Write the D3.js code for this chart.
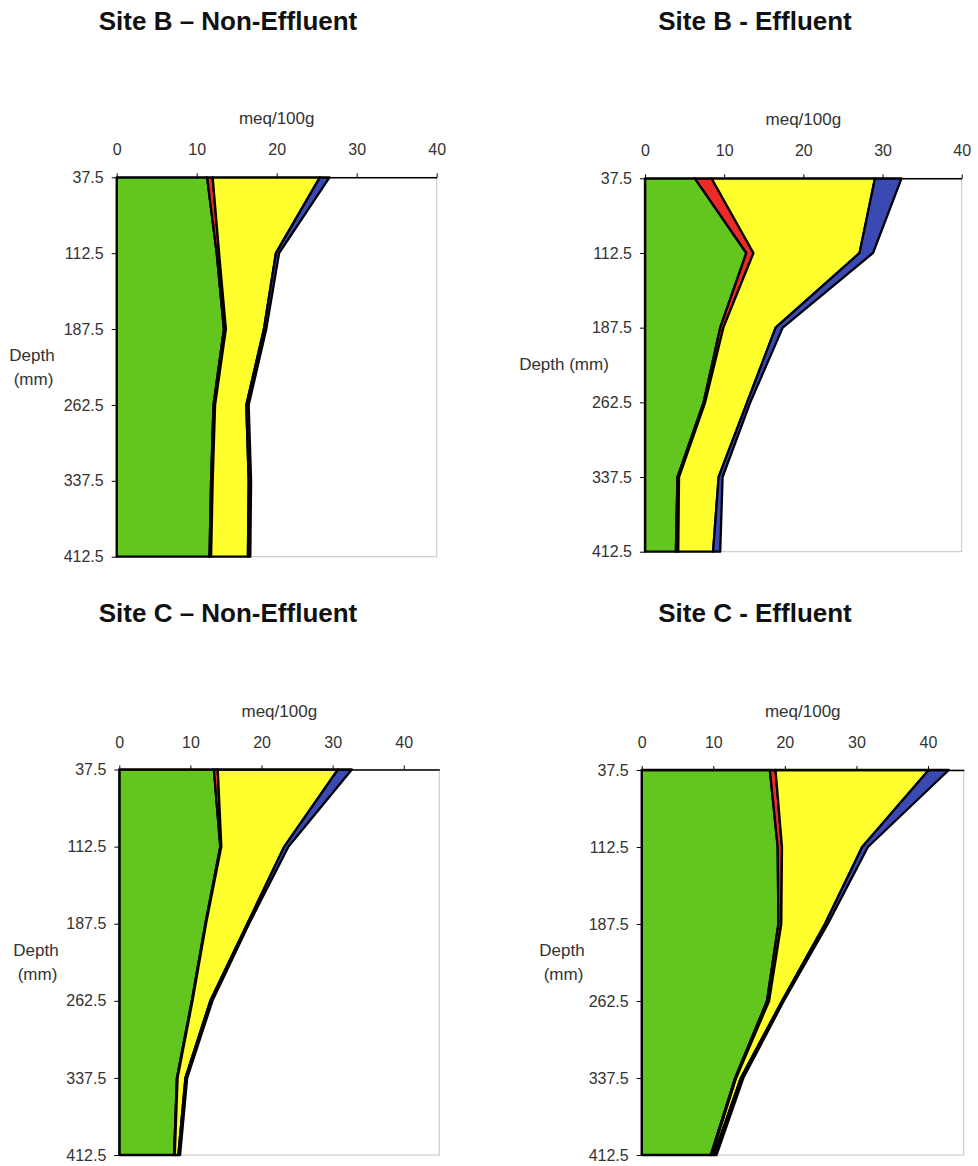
<!DOCTYPE html>
<html>
<head>
<meta charset="utf-8">
<script src="https://cdn.jsdelivr.net/npm/d3@7"></script>
<style>
  html, body { margin: 0; padding: 0; background: #fff; }
  svg { display: block; }
  text { font-family: "Liberation Sans", Arial, sans-serif; }
</style>
</head>
<body>
<svg id="chart" width="978" height="1166"></svg>
<script>
// Sampling depths (mm), shared by all four profiles
const depths = [37.5, 112.5, 187.5, 262.5, 337.5, 412.5];
const xTicks = [0, 10, 20, 30, 40];

// Exchangeable cations (meq/100g), stacked left to right: Ca, K, Mg, Na
const seriesKeys = ["Ca", "K", "Mg", "Na"];
const seriesColors = ["#63c61e", "#ec2a2a", "#ffff2e", "#3a4ab2"];

// Site B – Non-Effluent
const bNonCa = [11.3, 12.5, 13.4, 12.1, 11.8, 11.6];
const bNonK  = [0.7, 0.3, 0.25, 0.2, 0.2, 0.2];
const bNonMg = [13.4, 7.1, 4.75, 3.9, 4.5, 4.6];
const bNonNa = [1.2, 0.4, 0.3, 0.3, 0.3, 0.3];

// Site B - Effluent
const bEffCa = [6.3, 12.8, 9.5, 7.4, 4.1, 3.9];
const bEffK  = [2.1, 0.9, 0.4, 0.2, 0.2, 0.3];
const bEffMg = [20.65, 13.4, 6.6, 5.3, 5.0, 4.4];
const bEffNa = [3.35, 1.7, 0.9, 0.4, 0.5, 0.9];

// Site C – Non-Effluent
const cNonCa = [13.3, 14.2, 12.1, 10.2, 8.1, 7.7];
const cNonK  = [0.55, 0.15, 0.1, 0.1, 0.1, 0.1];
const cNonMg = [16.9, 8.85, 5.8, 2.5, 1.1, 0.5];
const cNonNa = [1.95, 0.6, 0.25, 0.3, 0.25, 0.25];

// Site C - Effluent
const cEffCa = [17.9, 19.0, 19.1, 17.5, 13.05, 9.65];
const cEffK  = [0.8, 0.6, 0.4, 0.3, 0.15, 0.15];
const cEffMg = [21.4, 11.2, 6.1, 1.8, 0.65, 0.3];
const cEffNa = [2.8, 0.8, 0.4, 0.25, 0.35, 0.35];

const titles = ["Site B \u2013 Non-Effluent", "Site B - Effluent",
                "Site C \u2013 Non-Effluent", "Site C - Effluent"];
const xMax = [40, 40, 45, 45];
const depthLabels = [["Depth", "(mm)"], ["Depth (mm)"], ["Depth", "(mm)"], ["Depth", "(mm)"]];

const panelSeries = [
  [bNonCa, bNonK, bNonMg, bNonNa],
  [bEffCa, bEffK, bEffMg, bEffNa],
  [cNonCa, cNonK, cNonMg, cNonNa],
  [cEffCa, cEffK, cEffMg, cEffNa]
];

// Panel frames and label placement
const frames = [
  { left: 116.7, right: 436.7, top: 177.3, bottom: 556.7, titleX: 228, titleY: 30, depthX: 32, depthY: 361 },
  { left: 645,   right: 961.7, top: 178.3, bottom: 551.7, titleX: 755, titleY: 30, depthX: 564, depthY: 370 },
  { left: 119.3, right: 439.3, top: 769.5, bottom: 1155,  titleX: 228, titleY: 622, depthX: 36, depthY: 956 },
  { left: 641.7, right: 963.8, top: 770,   bottom: 1155,  titleX: 755, titleY: 622, depthX: 562, depthY: 956 }
];

const svg = d3.select("#chart");

frames.forEach((f, i) => {
  const g = svg.append("g");

  // Rows of the stack table for this panel
  const rows = depths.map((d, j) => {
    const row = { depth: d };
    seriesKeys.forEach((k, s) => { row[k] = panelSeries[i][s][j]; });
    return row;
  });
  const stacked = d3.stack().keys(seriesKeys)(rows);

  const x = d3.scaleLinear().domain([0, xMax[i]]).range([f.left, f.right]);
  const y = d3.scaleLinear().domain([depths[0], depths[depths.length - 1]]).range([f.top, f.bottom]);

  // Plot area border (light grey)
  g.append("rect")
    .attr("x", f.left).attr("y", f.top)
    .attr("width", f.right - f.left).attr("height", f.bottom - f.top)
    .attr("fill", "none").attr("stroke", "#c4c4c4").attr("stroke-width", 1);

  // Stacked areas running down the depth axis
  const area = d3.area()
    .y(d => y(d.data.depth))
    .x0(d => x(d[0]))
    .x1(d => x(d[1]))
    .curve(d3.curveLinear);

  g.selectAll("path.layer")
    .data(stacked)
    .join("path")
    .attr("class", "layer")
    .attr("d", area)
    .attr("fill", (d, s) => seriesColors[s])
    .attr("stroke", "#000")
    .attr("stroke-width", 2.3)
    .attr("stroke-linejoin", "round");

  // Top value axis
  const xAxis = d3.axisTop(x).tickValues(xTicks).tickSize(4).tickSizeOuter(0).tickPadding(18)
    .tickFormat(d3.format("d"));
  const xg = g.append("g").attr("transform", `translate(0,${f.top})`).call(xAxis);
  xg.select(".domain").attr("stroke", "#000").attr("stroke-width", 1.5);
  xg.selectAll(".tick line").attr("stroke", "#000");
  xg.selectAll(".tick text").attr("font-size", 16).attr("fill", "#333")
    .attr("font-family", "'Liberation Sans', Arial, sans-serif");

  // Left depth axis
  const yAxis = d3.axisLeft(y).tickValues(depths).tickSize(5).tickSizeOuter(0).tickPadding(8)
    .tickFormat(d3.format(".1f"));
  const yg = g.append("g").attr("transform", `translate(${f.left},0)`).call(yAxis);
  yg.select(".domain").attr("stroke", "#000").attr("stroke-width", 1.5);
  yg.selectAll(".tick line").attr("stroke", "#000");
  yg.selectAll(".tick text").attr("font-size", 16).attr("fill", "#333")
    .attr("font-family", "'Liberation Sans', Arial, sans-serif");

  // Unit label above the value axis
  g.append("text")
    .attr("x", (f.left + f.right) / 2).attr("y", f.top - 53)
    .attr("text-anchor", "middle").attr("font-size", 17).attr("fill", "#333")
    .text("meq/100g");

  // Depth label
  const dl = depthLabels[i];
  dl.forEach((t, k) => {
    g.append("text")
      .attr("x", f.depthX + (k === 1 ? 1.5 : 0))
      .attr("y", f.depthY + k * 24)
      .attr("text-anchor", "middle").attr("font-size", 17).attr("fill", "#333")
      .text(t);
  });

  // Panel title
  g.append("text")
    .attr("x", f.titleX).attr("y", f.titleY)
    .attr("text-anchor", "middle").attr("font-size", 26).attr("font-weight", "bold")
    .attr("fill", "#111")
    .text(titles[i]);
});
</script>
</body>
</html>
